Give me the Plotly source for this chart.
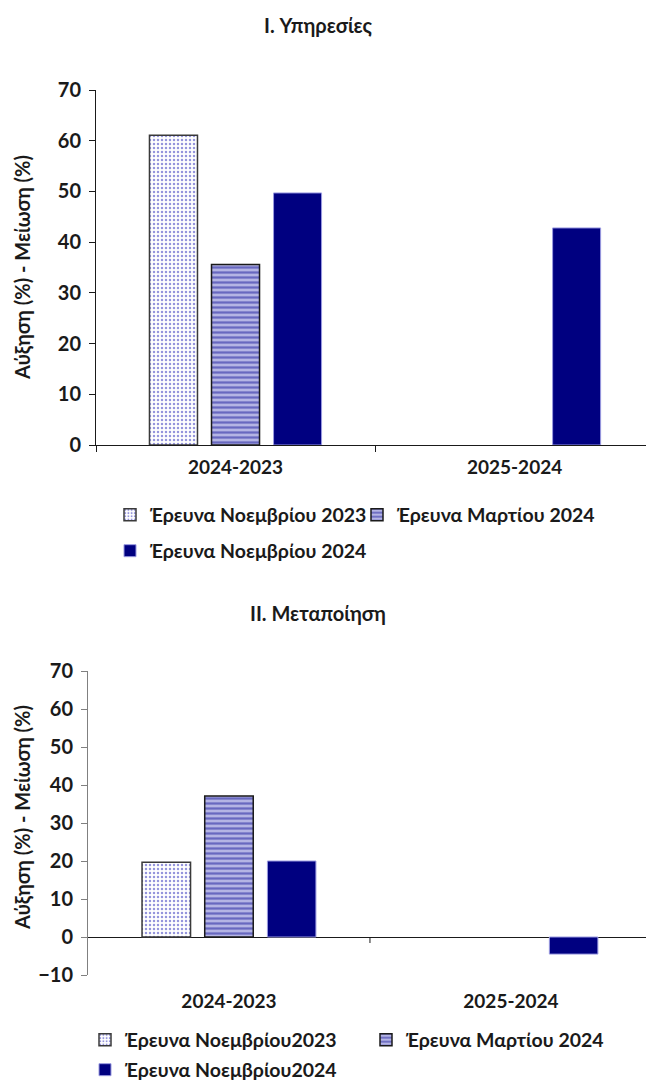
import plotly.graph_objects as go

# ---- data ----
categories = ["2024-2023", "2025-2024"]

services_nov2023 = [61.1, None]
services_mar2024 = [35.6, None]
services_nov2024 = [49.7, 42.8]

manuf_nov2023 = [19.7, None]
manuf_mar2024 = [37.1, None]
manuf_nov2024 = [20.0, -4.5]

names_top = ["Έρευνα Νοεμβρίου 2023", "Έρευνα Μαρτίου 2024", "Έρευνα Νοεμβρίου 2024"]
names_bottom = ["Έρευνα Νοεμβρίου2023", "Έρευνα Μαρτίου 2024", "Έρευνα Νοεμβρίου2024"]

title_top = "I. Υπηρεσίες"
title_bottom = "II. Μεταποίηση"
y_title = "Αύξηση (%) - Μείωση (%)"

top_ticks = [0, 10, 20, 30, 40, 50, 60, 70]
bottom_ticks = [-10, 0, 10, 20, 30, 40, 50, 60, 70]

# ---- styling ----
W, H = 646, 1081
FONT = "Lato"
NAVY = "#000080"
TXT = "#1a1a1a"

style1 = dict(color="white",
              pattern=dict(shape=".", fgcolor="#2a2ab8", bgcolor="white", size=4, solidity=0.3),
              line=dict(color="#3a3a3a", width=1.5))
style2 = dict(color="#a6a6dc",
              pattern=dict(shape="-", fgcolor="#1c1c9c", bgcolor="#b4b4e4", size=5, solidity=0.45),
              line=dict(color=TXT, width=1.5))
style3 = dict(color=NAVY, line=dict(color="#9a9ae0", width=1))


def py(px):
    return 1 - px / H


def px_x(px):
    return px / W


fig = go.Figure()

top_vals = [services_nov2023, services_mar2024, services_nov2024]
bot_vals = [manuf_nov2023, manuf_mar2024, manuf_nov2024]
styles = [style1, style2, style3]
top_legends = ["legend", "legend", "legend2"]
bot_legends = ["legend3", "legend3", "legend4"]

for i in range(3):
    fig.add_trace(go.Bar(x=categories, y=top_vals[i], name=names_top[i], marker=styles[i],
                         xaxis="x", yaxis="y", legend=top_legends[i]))
for i in range(3):
    fig.add_trace(go.Bar(x=categories, y=bot_vals[i], name=names_bottom[i], marker=styles[i],
                         xaxis="x2", yaxis="y2", legend=bot_legends[i]))

ytickfont = dict(family=FONT, size=20, color=TXT, weight="bold")
xtickfont = dict(family=FONT, size=19, color=TXT, weight="bold")
legfont = dict(family=FONT, size=19.5, color=TXT, weight="bold")
titlefont = dict(family=FONT, size=20, color=TXT, weight="bold")
ytitlefont = dict(family=FONT, size=20, color=TXT, weight="bold")

fig.update_layout(
    width=W, height=H,
    margin=dict(l=0, r=0, t=0, b=0, autoexpand=False),
    paper_bgcolor="white", plot_bgcolor="white",
    barmode="group", bargap=0.333, bargroupgap=0.226,
    font=dict(family=FONT, color=TXT),
    xaxis=dict(domain=[px_x(96), 1], anchor="y", type="category",
               range=[-0.5, 1.471], showline=True, linecolor=TXT, linewidth=1,
               ticks="outside", tickson="boundaries", ticklen=6, tickcolor=TXT,
               tickfont=xtickfont, ticklabelstandoff=5, showgrid=False, zeroline=False),
    yaxis=dict(domain=[py(445), py(90)], anchor="x", range=[0, 70],
               tickvals=top_ticks, showline=True, linecolor=TXT, linewidth=1,
               ticks="outside", ticklen=6, tickcolor=TXT, tickfont=ytickfont,
               ticklabelstandoff=4, showgrid=False, zeroline=False),
    xaxis2=dict(domain=[px_x(88), 1], anchor="y2", type="category",
                range=[-0.5, 1.479], showline=False, ticks="",
                tickfont=xtickfont, ticklabelstandoff=13, showgrid=False, zeroline=False),
    yaxis2=dict(domain=[py(975), py(671)], anchor="x2", range=[-10, 70],
                tickvals=bottom_ticks, showline=True, linecolor="#808080", linewidth=1,
                ticks="outside", ticklen=6, tickcolor="#808080", tickfont=ytickfont,
                ticklabelstandoff=4, showgrid=False,
                zeroline=True, zerolinecolor=TXT, zerolinewidth=1),
    legend=dict(orientation="h", x=px_x(110), xanchor="left", y=py(515), yanchor="middle",
                entrywidth=202, entrywidthmode="pixels", font=legfont, bgcolor="rgba(0,0,0,0)",
                traceorder="normal"),
    legend2=dict(orientation="h", x=px_x(110), xanchor="left", y=py(551), yanchor="middle",
                 font=legfont, bgcolor="rgba(0,0,0,0)"),
    legend3=dict(orientation="h", x=px_x(85), xanchor="left", y=py(1040), yanchor="middle",
                 entrywidth=236, entrywidthmode="pixels", font=legfont, bgcolor="rgba(0,0,0,0)",
                 traceorder="normal"),
    legend4=dict(orientation="h", x=px_x(85), xanchor="left", y=py(1070), yanchor="middle",
                 font=legfont, bgcolor="rgba(0,0,0,0)"),
    annotations=[
        dict(text=title_top, x=px_x(318), y=py(25), xref="paper", yref="paper",
             xanchor="center", yanchor="middle", showarrow=False, font=titlefont),
        dict(text=title_bottom, x=px_x(318), y=py(613), xref="paper", yref="paper",
             xanchor="center", yanchor="middle", showarrow=False, font=titlefont),
        dict(text=y_title, x=px_x(22), y=py(268), xref="paper", yref="paper", textangle=-90,
             xanchor="center", yanchor="middle", showarrow=False, font=ytitlefont),
        dict(text=y_title, x=px_x(22), y=py(818), xref="paper", yref="paper", textangle=-90,
             xanchor="center", yanchor="middle", showarrow=False, font=ytitlefont),
    ],
    shapes=[
        dict(type="line", xref="x2", yref="y2", x0=0.5, x1=0.5, ysizemode="pixel",
             yanchor=0, y0=0, y1=-6, line=dict(color=TXT, width=1)),
    ],
)

fig.write_html("out.html", config={"displayModeBar": False},
               post_script="document.body.style.margin='0px';")
